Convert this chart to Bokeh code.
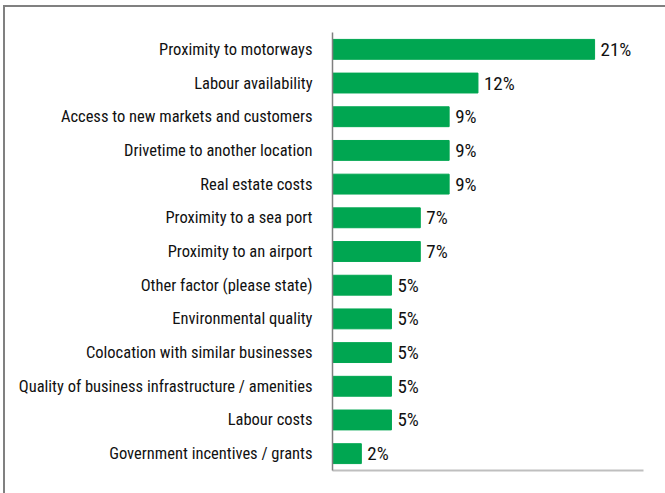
from bokeh.plotting import figure
from bokeh.models import ColumnDataSource, FactorRange, Range1d, FixedTicker, LabelSet
from bokeh.core.properties import value
from bokeh.embed import file_html
from bokeh.resources import INLINE

factors = [
    "Proximity to motorways",
    "Labour availability",
    "Access to new markets and customers",
    "Drivetime to another location",
    "Real estate costs",
    "Proximity to a sea port",
    "Proximity to an airport",
    "Other factor (please state)",
    "Environmental quality",
    "Colocation with similar businesses",
    "Quality of business infrastructure / amenities",
    "Labour costs",
    "Government incentives / grants",
]
values = [20.9, 11.6, 9.3, 9.3, 9.3, 7.0, 7.0, 4.7, 4.7, 4.7, 4.7, 4.7, 2.3]
labels = ["21%", "12%", "9%", "9%", "9%", "7%", "7%", "5%", "5%", "5%", "5%", "5%", "2%"]

FONT = "Roboto Condensed"

src = ColumnDataSource(dict(cat=factors, val=values, lab=labels))

p = figure(width=662, height=488, output_backend="svg", toolbar_location=None,
           y_range=FactorRange(factors=factors[::-1]), x_range=Range1d(0, 24.8),
           min_border_left=327, min_border_top=25, min_border_bottom=25, min_border_right=24)
p.styles = {"margin-left": "3px", "margin-top": "5px",
            "border-left": "2px solid #808080", "border-top": "2px solid #808080"}

p.hbar(y="cat", right="val", left=0, height=0.59, source=src, color="#00A651")

p.add_layout(LabelSet(x="val", y="cat", text="lab", source=src, x_offset=6, y_offset=0,
                      text_baseline="middle", text_font=value(FONT), text_font_size=value("19px"),
                      text_color="#111111"))

p.grid.visible = False
p.outline_line_color = None
p.background_fill_color = "white"
p.border_fill_color = "white"

ya = p.yaxis[0]
ya.major_tick_line_color = None
ya.minor_tick_line_color = None
ya.axis_line_color = "#7f7f7f"
ya.axis_line_width = 1.5
ya.major_label_text_font = FONT
ya.major_label_text_font_size = "16.5px"
ya.major_label_text_color = "#111111"
ya.major_label_standoff = 14

xa = p.xaxis[0]
xa.ticker = FixedTicker(ticks=[])
xa.major_tick_line_color = None
xa.minor_tick_line_color = None
xa.major_label_text_font_size = "0px"
xa.axis_line_color = "#bfbfbf"
xa.axis_line_width = 2

open("out.html", "w").write(file_html(p, INLINE))
